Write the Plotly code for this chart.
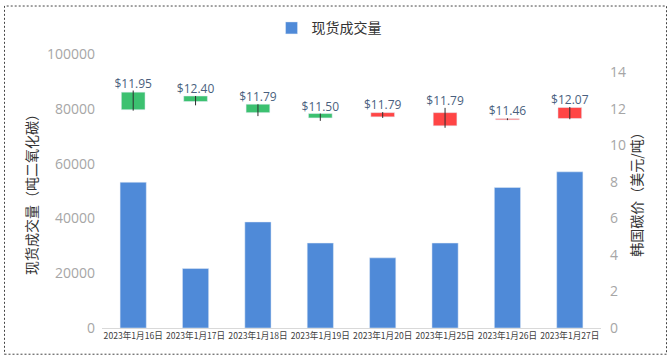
import plotly.graph_objects as go

dates = ["2023年1月16日", "2023年1月17日", "2023年1月18日", "2023年1月19日",
         "2023年1月20日", "2023年1月25日", "2023年1月26日", "2023年1月27日"]
volume = [53200, 21700, 38700, 31000, 25600, 31000, 51300, 57000]
open_p = [12.91, 12.70, 12.25, 11.74, 11.56, 11.07, 11.40, 11.47]
close_p = [11.95, 12.40, 11.79, 11.50, 11.79, 11.79, 11.46, 12.07]
high_p = [13.00, 12.70, 12.25, 11.74, 11.82, 12.05, 11.48, 12.10]
low_p = [11.90, 12.19, 11.60, 11.34, 11.50, 10.96, 11.38, 11.43]
price_labels = ["$%.2f" % c for c in close_p]

UP = "#ff4545"
DOWN = "#3cc170"
BAR = "#4f8ad8"

fig = go.Figure()

fig.add_trace(go.Bar(
    x=dates, y=volume, name="现货成交量", marker_color=BAR,
    width=0.42, yaxis="y", showlegend=True,
))

body_base = [min(o, c) for o, c in zip(open_p, close_p)]
body_h = [max(abs(c - o), 0.06) for o, c in zip(open_p, close_p)]
body_col = [UP if c >= o else DOWN for o, c in zip(open_p, close_p)]
fig.add_trace(go.Bar(
    x=dates, y=body_h, base=body_base, marker_color=body_col,
    width=0.38, yaxis="y2", showlegend=False, hoverinfo="skip",
))

wx, wy = [], []
for d, lo, hi in zip(dates, low_p, high_p):
    wx += [d, d, None]
    wy += [lo, hi, None]
fig.add_trace(go.Scatter(
    x=wx, y=wy, mode="lines", line=dict(color="#2e2e2e", width=1),
    yaxis="y2", showlegend=False, hoverinfo="skip",
))

fig.add_trace(go.Scatter(
    x=dates, y=high_p, mode="text", text=price_labels,
    textposition="top center",
    textfont=dict(size=12, color="#4a5f7e", family="Open Sans, DejaVu Sans"),
    yaxis="y2", showlegend=False, hoverinfo="skip",
))

L, R, T, B = 102, 71, 51, 32
W, H = 672, 360
pw, ph = W - L - R, H - T - B

fig.add_shape(
    type="rect", xref="paper", yref="paper",
    x0=(4.5 - L) / pw, x1=(666.5 - L) / pw,
    y0=(H - B - 354.5) / ph, y1=(H - B - 2.5) / ph,
    line=dict(color="#444444", width=1, dash="2px,2px"),
)

fig.update_layout(
    width=W, height=H,
    margin=dict(l=L, r=R, t=T, b=B),
    paper_bgcolor="white", plot_bgcolor="white",
    barmode="overlay",
    font=dict(family="Noto Sans CJK SC, sans-serif", color="#333333"),
    legend=dict(orientation="h", x=0.455, xanchor="center", y=1.0 + (51 - 25) / ph,
                yanchor="middle", font=dict(size=14, color="#333333"),
                bgcolor="rgba(0,0,0,0)"),
    xaxis=dict(
        type="category", showgrid=False, showline=True, linecolor="#d9d9d9",
        ticks="", tickfont=dict(size=8.6, color="#404040"),
        tickangle=0,
    ),
    yaxis=dict(
        range=[0, 100000], dtick=20000, tickformat="d", showgrid=False, zeroline=False,
        tickfont=dict(size=14, color="#a6a6a6", family="Open Sans, DejaVu Sans"),
        ticklabelstandoff=6,
        title=dict(text="现货成交量（吨二氧化碳）", font=dict(size=14, color="#333333"),
                   standoff=6),
    ),
    yaxis2=dict(
        range=[0, 15], tickvals=[0, 2, 4, 6, 8, 10, 12, 14], overlaying="y",
        side="right", showgrid=False, zeroline=False,
        tickfont=dict(size=14, color="#a6a6a6", family="Open Sans, DejaVu Sans"),
        ticklabelstandoff=8,
        title=dict(text="韩国碳价（美元/吨）", font=dict(size=14, color="#333333"),
                   standoff=6),
    ),
)

fig.write_html(
    "out.html",
    config={"displayModeBar": False},
    post_script="document.body.style.margin='0';document.body.style.overflow='hidden';",
)
